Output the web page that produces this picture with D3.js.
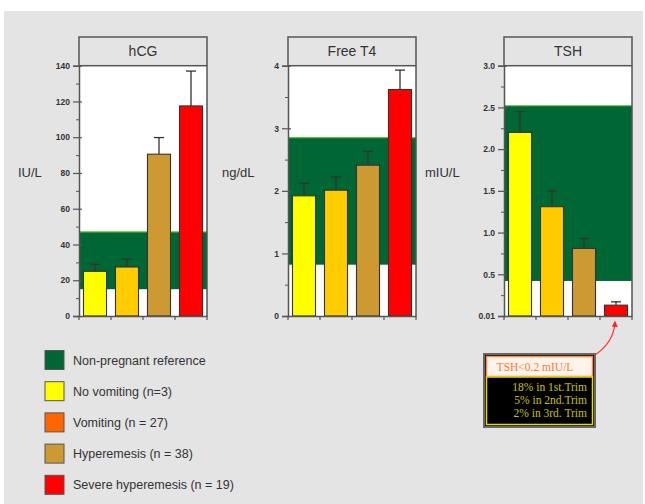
<!DOCTYPE html>
<html><head><meta charset="utf-8">
<script src="https://cdn.jsdelivr.net/npm/d3@7"></script>
<style>body{margin:0;background:#fff}svg{display:block}</style>
</head><body>
<svg id="c" width="645" height="504"></svg>
<script>
const groups = ["No vomiting","Vomiting","Hyperemesis","Severe hyperemesis"];
const barColors = ["#ffff00","#ffcc00","#cc9933","#ff0000"];
const panelTitles = ["hCG","Free T4","TSH"];
const unitLabels = ["IU/L","ng/dL","mIU/L"];
const hcgValues = [25, 27.4, 90.5, 117.5];
const hcgErrors = [28.9, 31.8, 99.8, 137];
const ft4Values = [1.92, 2.01, 2.41, 3.62];
const ft4Errors = [2.12, 2.22, 2.63, 3.93];
const tshValues = [2.2, 1.31, 0.81, 0.13];
const tshErrors = [2.45, 1.5, 0.93, 0.17];
const refRanges = [[15, 47], [0.82, 2.85], [0.42, 2.52]];
const yMax = [140, 4, 3];
const majorTicks = [[0,20,40,60,80,100,120,140],[0,1,2,3,4],[0,0.5,1,1.5,2,2.5,3]];
const majorLabels = [["0","20","40","60","80","100","120","140"],["0","1","2","3","4"],["0.01","0.5","1.0","1.5","2.0","2.5","3.0"]];
const minorTicks = [[10,30,50,70,90,110,130],[0.5,1.5,2.5,3.5],[0.25,0.75,1.25,1.75,2.25,2.75]];
const legendLabels = ["Non-pregnant reference","No vomiting (n=3)","Vomiting (n = 27)","Hyperemesis (n = 38)","Severe hyperemesis (n = 19)"];
const legendColors = ["#006633","#ffff00","#ff6600","#cc9933","#ff0000"];
const calloutTitle = "TSH<0.2 mIU/L";
const calloutLines = ["18% in 1st.Trim","5% in 2nd.Trim","2% in 3rd. Trim"];

const values = [hcgValues, ft4Values, tshValues];
const errors = [hcgErrors, ft4Errors, tshErrors];

const svg = d3.select("#c");
svg.append("rect").attr("x",4).attr("y",11).attr("width",639).attr("height",493).attr("fill","#e4e4e4");

const panelX = [79, 288, 504];
const panelW = 128;
const titleTop = 37, plotTop = 65.7, plotBottom = 316;
const unitX = [18, 222, 425];

panelTitles.forEach((t, i) => {
  const g = svg.append("g");
  const x0 = panelX[i];
  const x = d3.scaleBand().domain(groups).range([x0, x0 + panelW]).paddingInner(0.28).paddingOuter(0.14);
  const y = d3.scaleLinear().domain([0, yMax[i]]).range([plotBottom, plotTop]);
  g.append("rect").attr("x", x0).attr("y", plotTop).attr("width", panelW).attr("height", plotBottom - plotTop).attr("fill", "#fff");
  const r = refRanges[i];
  g.append("rect").attr("x", x0).attr("y", y(r[1])).attr("width", panelW).attr("height", y(r[0]) - y(r[1])).attr("fill", "#006633");
  g.append("line").attr("x1", x0).attr("x2", x0 + panelW).attr("y1", y(r[1])).attr("y2", y(r[1])).attr("stroke", "#5fbf3f").attr("stroke-width", 1.2);
  g.append("rect").attr("x", x0).attr("y", titleTop).attr("width", panelW).attr("height", plotTop - titleTop).attr("fill", "#e4e4e4").attr("stroke", "#555").attr("stroke-width", 1.5);
  g.append("text").attr("x", x0 + panelW / 2).attr("y", (titleTop + plotTop) / 2 + 5).attr("text-anchor", "middle")
    .attr("font-family", "Arial, 'Liberation Sans', sans-serif").attr("font-size", 14).attr("fill", "#333").text(t);
  g.append("line").attr("x1", x0 + panelW).attr("x2", x0 + panelW).attr("y1", plotTop).attr("y2", plotBottom).attr("stroke", "#555").attr("stroke-width", 1.5);
  groups.forEach((gname, j) => {
    const v = values[i][j], e = errors[i][j];
    const cx = x(gname) + x.bandwidth() / 2;
    g.append("line").attr("x1", cx).attr("x2", cx).attr("y1", y(v)).attr("y2", y(e)).attr("stroke", "#333").attr("stroke-width", 1.3);
    g.append("line").attr("x1", cx - 5).attr("x2", cx + 5).attr("y1", y(e)).attr("y2", y(e)).attr("stroke", "#333").attr("stroke-width", 1.3);
    g.append("rect").attr("x", x(gname)).attr("y", y(v)).attr("width", x.bandwidth()).attr("height", plotBottom - y(v))
      .attr("fill", barColors[j]).attr("stroke", "#333").attr("stroke-width", 1.1);
  });
  const ax = d3.axisLeft(y).tickValues(majorTicks[i]).tickSize(6).tickPadding(3)
    .tickFormat((d, k) => majorLabels[i][k]);
  const ag = g.append("g").attr("transform", `translate(${x0},0)`).call(ax);
  ag.select(".domain").attr("stroke", "#555").attr("stroke-width", 1.5);
  ag.selectAll(".tick line").attr("stroke", "#555").attr("stroke-width", 1.2).attr("x2", 3).attr("x1", -6);
  ag.selectAll(".tick text").attr("font-family", "Arial, 'Liberation Sans', sans-serif").attr("font-size", 8.5).attr("font-weight", "bold").attr("fill", "#333");
  const mg = g.append("g").attr("transform", `translate(${x0},0)`).call(d3.axisLeft(y).tickValues(minorTicks[i]).tickSize(3).tickFormat(""));
  mg.select(".domain").remove();
  mg.selectAll(".tick line").attr("stroke", "#555");
  const bx = g.append("g").attr("transform", `translate(0,${plotBottom})`).call(d3.axisBottom(x).tickSize(0).tickFormat(""));
  bx.select(".domain").attr("stroke", "#555").attr("stroke-width", 1.5);
  const bounds = d3.range(5).map(k => x0 + k * panelW / 4);
  bounds.forEach(b => g.append("line").attr("x1", b).attr("x2", b).attr("y1", plotBottom).attr("y2", plotBottom + 4).attr("stroke", "#555").attr("stroke-width", 1.2));
  g.append("text").attr("x", unitX[i]).attr("y", 177).attr("font-family", "Arial, 'Liberation Sans', sans-serif").attr("font-size", 13).attr("fill", "#333").text(unitLabels[i]);
});

const lg = svg.append("g");
legendLabels.forEach((l, k) => {
  const cy = 360 + k * 31.2;
  lg.append("rect").attr("x", 45).attr("y", cy - 9.5).attr("width", 19).attr("height", 19).attr("fill", legendColors[k]).attr("stroke", "#555").attr("stroke-width", 1);
  lg.append("text").attr("x", 73).attr("y", cy + 4.5).attr("font-family", "Arial, 'Liberation Sans', sans-serif").attr("font-size", 12.5).attr("fill", "#333").text(l);
});

const cg = svg.append("g");
cg.append("rect").attr("x", 484).attr("y", 354).attr("width", 111).attr("height", 73).attr("fill", "#000").attr("stroke", "#666").attr("stroke-width", 2);
cg.append("rect").attr("x", 486.5).attr("y", 356.5).attr("width", 106).attr("height", 20).attr("fill", "#fff4ec").attr("stroke", "#ff8844").attr("stroke-width", 1.5);
cg.append("rect").attr("x", 486.5).attr("y", 377).attr("width", 106).attr("height", 47.5).attr("fill", "#000").attr("stroke", "#e6dc00").attr("stroke-width", 1.5);
cg.append("text").attr("x", 535).attr("y", 371).attr("text-anchor", "middle").attr("font-family", "'Liberation Serif', 'Times New Roman', serif").attr("font-size", 11.5).attr("fill", "#ff7733").text(calloutTitle);
calloutLines.forEach((t, k) => {
  cg.append("text").attr("x", 587).attr("y", 390.5 + k * 13).attr("text-anchor", "end").attr("font-family", "'Liberation Serif', 'Times New Roman', serif").attr("font-size", 11.5).attr("fill", "#c8c200").text(t);
});
svg.append("defs").append("marker").attr("id", "ah").attr("viewBox", "0 0 10 10").attr("refX", 8).attr("refY", 5)
  .attr("markerWidth", 5).attr("markerHeight", 5).attr("orient", "auto")
  .append("path").attr("d", "M0,0L10,5L0,10z").attr("fill", "#ff2222");
svg.append("path").attr("d", "M595,355 Q614,342 615,322").attr("fill", "none").attr("stroke", "#ff3333").attr("stroke-width", 1.2).attr("marker-end", "url(#ah)");
</script>
</body></html>
